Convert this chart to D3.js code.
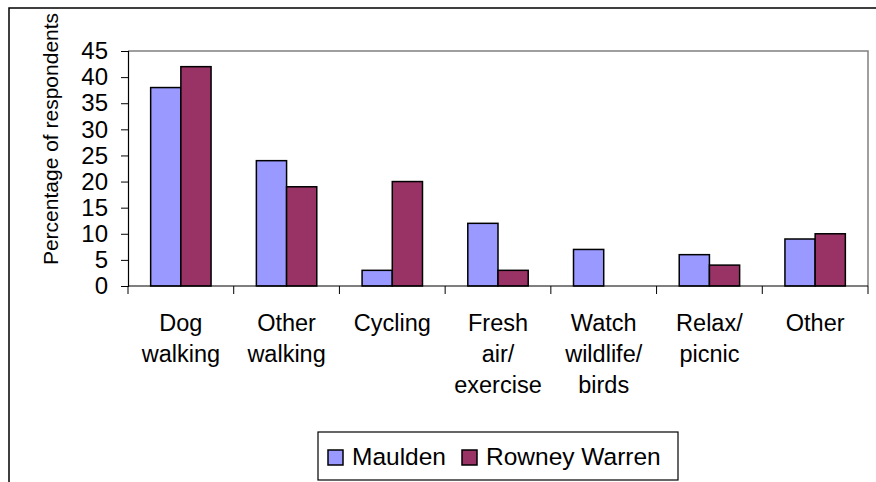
<!DOCTYPE html>
<html>
    <head>
        <title>Reasons for visiting</title>
        <script src="https://d3js.org/d3.v7.min.js" charset="utf-8"></script>
        <style>
            body {
                margin: 0;
                background: white;
                font-family: "Liberation Sans", Arial, sans-serif;
            }
            text {
                fill: black;
            }
        </style>
    </head>
    <body>
        <script>
            // chart data
            var categories = ["Dog walking", "Other walking", "Cycling", "Fresh air/ exercise",
                              "Watch wildlife/ birds", "Relax/ picnic", "Other"];
            var categoryLines = [["Dog", "walking"], ["Other", "walking"], ["Cycling"],
                                 ["Fresh", "air/", "exercise"], ["Watch", "wildlife/", "birds"],
                                 ["Relax/", "picnic"], ["Other"]];
            var seriesNames = ["Maulden", "Rowney Warren"];
            var maulden = [38, 24, 3, 12, 7, 6, 9];
            var rowney = [42, 19, 20, 3, 0, 4, 10];
            var yTicks = [0, 5, 10, 15, 20, 25, 30, 35, 40, 45];
            var yTitle = "Percentage of respondents";

            var colors = {"Maulden": "#9999ff", "Rowney Warren": "#993366"};

            var width = 876;
            var height = 482;
            var plot = {left: 128, right: 868, top: 51, bottom: 286};

            var svg = d3.select("body")
                .append("svg")
                .attr("width", width)
                .attr("height", height);

            // outer chart frame (only left and top edges fall inside the picture)
            svg.append("rect")
                .attr("x", 9).attr("y", 8)
                .attr("width", 900).attr("height", 500)
                .attr("fill", "white")
                .attr("stroke", "black")
                .attr("stroke-width", 1.5);

            var x0 = d3.scaleBand()
                .domain(categories)
                .range([plot.left, plot.right])
                .padding(0);

            // gap width 150% like the spreadsheet default
            var barW = x0.bandwidth() / 3.5;
            var x1 = d3.scaleBand()
                .domain(seriesNames)
                .range([barW * 0.75, barW * 2.75]);

            var y = d3.scaleLinear()
                .domain([0, 45])
                .range([plot.bottom, plot.top]);

            // plot area border, grey on top and right
            svg.append("path")
                .attr("d", "M" + plot.left + "," + plot.top + "H" + plot.right + "V" + plot.bottom)
                .attr("fill", "none")
                .attr("stroke", "#808080")
                .attr("stroke-width", 1.5);

            // bars
            var rows = categories.map(function(c, i) {
                return {cat: c, values: [
                    {name: "Maulden", v: maulden[i]},
                    {name: "Rowney Warren", v: rowney[i]}
                ]};
            });

            var groups = svg.append("g").selectAll("g")
                .data(rows)
                .enter()
                .append("g")
                .attr("transform", function(d) { return "translate(" + x0(d.cat) + ",0)"; });

            groups.selectAll("rect")
                .data(function(d) { return d.values.filter(function(e) { return e.v > 0; }); })
                .enter()
                .append("rect")
                .attr("x", function(d) { return x1(d.name); })
                .attr("width", x1.bandwidth())
                .attr("y", function(d) { return y(d.v); })
                .attr("height", function(d) { return y(0) - y(d.v); })
                .attr("fill", function(d) { return colors[d.name]; })
                .attr("stroke", "black")
                .attr("stroke-width", 1.5);

            // y axis
            var yAxis = svg.append("g")
                .attr("transform", "translate(" + plot.left + ",0)")
                .call(d3.axisLeft(y).tickValues(yTicks).tickSize(7).tickPadding(13));
            yAxis.select(".domain").attr("stroke", "black").attr("stroke-width", 1.2);
            yAxis.selectAll(".tick line").attr("stroke", "black");
            yAxis.selectAll("text")
                .attr("font-family", "Liberation Sans, Arial, sans-serif")
                .attr("font-size", 24)
                .attr("fill", "black");

            // x axis, ticks between categories
            var xAxis = svg.append("g")
                .attr("transform", "translate(0," + plot.bottom + ")");
            xAxis.append("line")
                .attr("x1", plot.left).attr("x2", plot.right)
                .attr("stroke", "black").attr("stroke-width", 1.2);
            var bounds = categories.map(function(c) { return x0(c); }).concat([plot.right]);
            xAxis.selectAll(".xtick")
                .data(bounds)
                .enter()
                .append("line")
                .attr("class", "xtick")
                .attr("x1", function(d) { return d; })
                .attr("x2", function(d) { return d; })
                .attr("y1", 0).attr("y2", 8)
                .attr("stroke", "black");

            // category labels, several lines each
            var labels = svg.append("g").selectAll("text")
                .data(categories)
                .enter()
                .append("text")
                .attr("x", function(d) { return x0(d) + x0.bandwidth() / 2; })
                .attr("y", 331)
                .attr("text-anchor", "middle")
                .attr("font-size", 23.5);
            labels.selectAll("tspan")
                .data(function(d, i) { return categoryLines[i]; })
                .enter()
                .append("tspan")
                .attr("x", function() { return d3.select(this.parentNode).attr("x"); })
                .attr("dy", function(d, i) { return i === 0 ? 0 : 31; })
                .text(function(d) { return d; });

            // y axis title
            svg.append("text")
                .attr("transform", "translate(58,139) rotate(-90)")
                .attr("text-anchor", "middle")
                .attr("font-size", 21)
                .text(yTitle);

            // legend
            var legend = svg.append("g");
            legend.append("rect")
                .attr("x", 318).attr("y", 432)
                .attr("width", 360).attr("height", 48)
                .attr("fill", "white")
                .attr("stroke", "black")
                .attr("stroke-width", 1.2);
            var legendX = [328, 462];
            var items = legend.selectAll("g")
                .data(seriesNames)
                .enter()
                .append("g")
                .attr("transform", function(d, i) { return "translate(" + legendX[i] + ",0)"; });
            items.append("rect")
                .attr("x", 0).attr("y", 450)
                .attr("width", 15).attr("height", 15)
                .attr("fill", function(d) { return colors[d]; })
                .attr("stroke", "black")
                .attr("stroke-width", 1.5);
            items.append("text")
                .attr("x", 24).attr("y", 465)
                .attr("font-size", 24.5)
                .text(function(d) { return d; });
        </script>
    </body>
</html>
